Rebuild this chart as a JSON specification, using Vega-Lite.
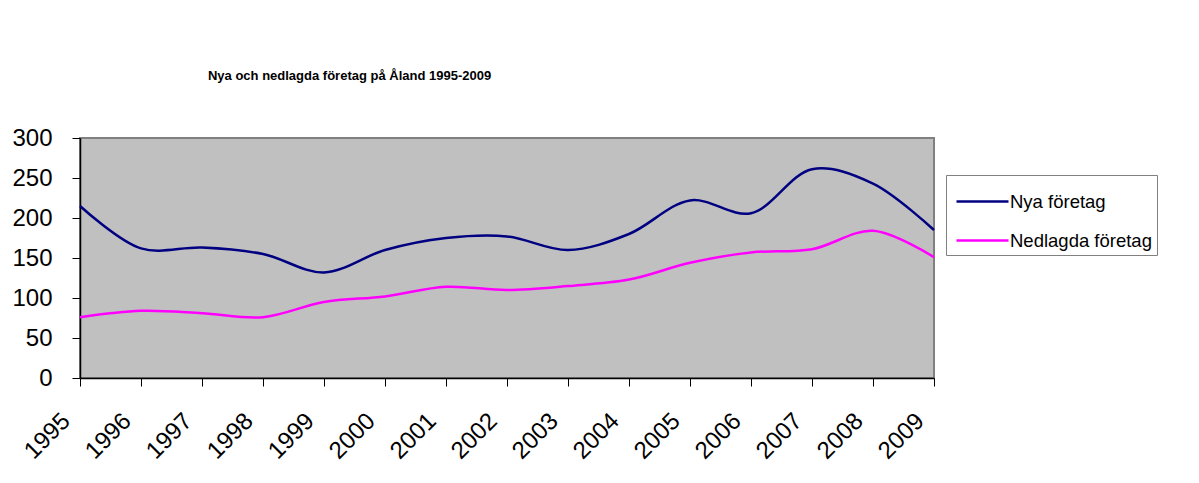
{
  "$schema": "https://vega.github.io/schema/vega-lite/v6.json",
  "autosize": "none",
  "width": 854,
  "height": 240,
  "padding": {"left": 80, "top": 138, "right": 265, "bottom": 105},
  "background": "white",
  "title": {
    "text": "Nya och nedlagda företag på Åland 1995-2009",
    "anchor": "start",
    "dx": 196,
    "offset": 43,
    "font": "Liberation Sans",
    "fontSize": 13,
    "fontWeight": "bold",
    "color": "black"
  },
  "data": {
    "values": [
      {"year": "1995", "series": "Nya företag", "value": 215},
      {"year": "1996", "series": "Nya företag", "value": 162},
      {"year": "1997", "series": "Nya företag", "value": 163},
      {"year": "1998", "series": "Nya företag", "value": 155},
      {"year": "1999", "series": "Nya företag", "value": 132},
      {"year": "2000", "series": "Nya företag", "value": 160},
      {"year": "2001", "series": "Nya företag", "value": 175},
      {"year": "2002", "series": "Nya företag", "value": 177},
      {"year": "2003", "series": "Nya företag", "value": 160},
      {"year": "2004", "series": "Nya företag", "value": 180},
      {"year": "2005", "series": "Nya företag", "value": 222},
      {"year": "2006", "series": "Nya företag", "value": 206},
      {"year": "2007", "series": "Nya företag", "value": 261},
      {"year": "2008", "series": "Nya företag", "value": 243},
      {"year": "2009", "series": "Nya företag", "value": 185},
      {"year": "1995", "series": "Nedlagda företag", "value": 76},
      {"year": "1996", "series": "Nedlagda företag", "value": 84},
      {"year": "1997", "series": "Nedlagda företag", "value": 81},
      {"year": "1998", "series": "Nedlagda företag", "value": 76},
      {"year": "1999", "series": "Nedlagda företag", "value": 95},
      {"year": "2000", "series": "Nedlagda företag", "value": 102},
      {"year": "2001", "series": "Nedlagda företag", "value": 114},
      {"year": "2002", "series": "Nedlagda företag", "value": 110},
      {"year": "2003", "series": "Nedlagda företag", "value": 115},
      {"year": "2004", "series": "Nedlagda företag", "value": 123},
      {"year": "2005", "series": "Nedlagda företag", "value": 144},
      {"year": "2006", "series": "Nedlagda företag", "value": 157},
      {"year": "2007", "series": "Nedlagda företag", "value": 161},
      {"year": "2008", "series": "Nedlagda företag", "value": 184},
      {"year": "2009", "series": "Nedlagda företag", "value": 151}
    ]
  },
  "mark": {"type": "line", "interpolate": "catmull-rom", "strokeWidth": 2.5},
  "encoding": {
    "x": {
      "field": "year",
      "type": "ordinal",
      "scale": {"type": "point", "padding": 0},
      "axis": {
        "title": null,
        "labelAngle": -45,
        "labelAlign": "right",
        "labelBaseline": "middle",
        "labelOffset": -14,
        "labelFontSize": 24,
        "labelFont": "Liberation Sans",
        "labelColor": "black",
        "labelPadding": 31,
        "tickSize": 8,
        "tickColor": "black",
        "domainColor": "black",
        "domainWidth": 1.5,
        "grid": false
      }
    },
    "y": {
      "field": "value",
      "type": "quantitative",
      "scale": {"domain": [0, 300], "nice": false},
      "axis": {
        "title": null,
        "values": [0, 50, 100, 150, 200, 250, 300],
        "labelFontSize": 24,
        "labelFont": "Liberation Sans",
        "labelColor": "black",
        "labelPadding": 20,
        "tickSize": 8,
        "tickColor": "black",
        "domainColor": "black",
        "domainWidth": 1.5,
        "grid": false
      }
    },
    "color": {
      "field": "series",
      "type": "nominal",
      "sort": ["Nya företag", "Nedlagda företag"],
      "scale": {"domain": ["Nya företag", "Nedlagda företag"], "range": ["#000080", "#FF00FF"]},
      "legend": {
        "title": null,
        "orient": "none",
        "legendX": 866,
        "legendY": 37,
        "symbolType": "M-1.3,0H1.3",
        "symbolSize": 1600,
        "symbolStrokeWidth": 2.5,
        "symbolOffset": 10,
        "labelFont": "Liberation Sans",
        "labelFontSize": 18.5,
        "labelColor": "black",
        "labelOffset": 6,
        "rowPadding": 8,
        "padding": 5,
        "strokeColor": "#808080",
        "fillColor": "white"
      }
    }
  },
  "config": {
    "view": {"fill": "#C0C0C0", "stroke": "#808080", "strokeWidth": 2}
  }
}
